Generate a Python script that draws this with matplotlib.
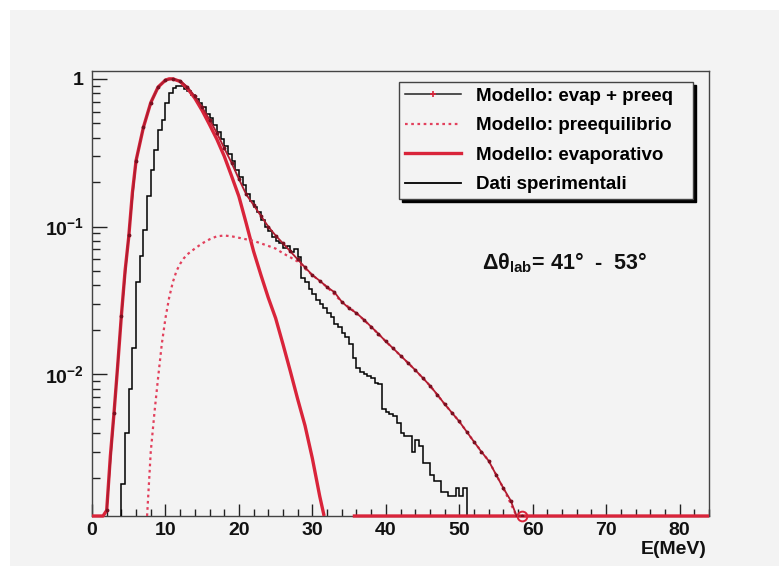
import numpy as np
import matplotlib
matplotlib.use("Agg")
import matplotlib.pyplot as plt
from matplotlib.lines import Line2D
from matplotlib.patches import Rectangle
from matplotlib.ticker import MultipleLocator, LogLocator, NullFormatter

plt.rcParams['font.family'] = ['Liberation Sans', 'DejaVu Sans']
plt.rcParams['font.weight'] = 'bold'
plt.rcParams['mathtext.fontset'] = 'custom'
plt.rcParams['mathtext.rm'] = 'Liberation Sans:bold'
plt.rcParams['mathtext.it'] = 'Liberation Sans:bold'
plt.rcParams['mathtext.bf'] = 'Liberation Sans:bold'
plt.rcParams['mathtext.default'] = 'rm'

# ---- axis range ----
E_MIN, E_MAX = 0.0, 84.0
Y_MIN, Y_MAX = 1.1e-3, 1.13

# ---- evaporative model (normalised to peak) ----
evap_E = [0, 1.5, 2.0, 2.5, 3.0, 3.5, 4.0, 4.5, 5.0, 5.5, 6.0, 7.0, 8.0, 9.0, 10.0,
          10.5, 11.0, 12.0, 13.0, 14.0, 15.0, 16.0, 17.0, 18.0, 19.0, 20.0, 21.0,
          22.0, 23.0, 24.0, 25.0, 26.0, 27.0, 28.0, 29.0, 30.0, 31.0, 31.6,
          33.0, 35.5, 84.0]
evap_val = [0, 0, 0.0012, 0.0028, 0.0055, 0.0115, 0.025, 0.05, 0.085, 0.17, 0.28,
            0.47, 0.69, 0.88, 0.98, 1.0, 1.0, 0.96, 0.86, 0.74, 0.61, 0.49, 0.39,
            0.30, 0.22, 0.16, 0.105, 0.068, 0.047, 0.033, 0.024, 0.016, 0.0105,
            0.0068, 0.0045, 0.0027, 0.0015, 0.00105, np.nan, 0, 0]

# ---- pre-equilibrium model ----
preeq_E = [7.5, 8.0, 8.5, 9.0, 9.5, 10.0, 10.5, 11.0, 11.5, 12.0, 12.5, 13.0, 14.0,
           15.0, 16.0, 17.0, 18.0, 19.0, 20.0, 21.0, 22.0, 23.0, 24.0, 25.0, 26.0,
           27.0, 28.0, 29.0, 30.0, 32.0, 34.0, 36.0, 38.0, 40.0, 42.0, 44.0, 46.0,
           48.0, 50.0, 52.0, 54.0, 56.0, 57.8]
preeq_val = [0.0011, 0.003, 0.0055, 0.0095, 0.016, 0.024, 0.033, 0.042, 0.05, 0.056,
             0.061, 0.065, 0.071, 0.077, 0.082, 0.086, 0.087, 0.086, 0.084, 0.082,
             0.08, 0.077, 0.074, 0.071, 0.066, 0.062, 0.058, 0.052, 0.047, 0.039,
             0.031, 0.026, 0.021, 0.0167, 0.0134, 0.0107, 0.0084, 0.0063, 0.0048,
             0.0035, 0.0026, 0.0017, 0.0011]

# ---- evaporative + pre-equilibrium model ----
sum_E = [2, 3, 4, 5, 6, 7, 8, 9, 10, 11, 12, 13, 14, 15, 16, 17, 18, 19, 20, 21, 22,
         23, 24, 25, 26, 27, 28, 29, 30, 31, 32, 33, 34, 35, 36, 37, 38, 39, 40, 41,
         42, 43, 44, 45, 46, 47, 48, 49, 50, 51, 52, 53, 54, 55, 56, 57, 57.8, 58.5]
sum_val = [0.0012, 0.0055, 0.025, 0.088, 0.28, 0.47, 0.69, 0.88, 0.98, 1.0, 0.97,
           0.88, 0.76, 0.64, 0.53, 0.43, 0.34, 0.27, 0.21, 0.165, 0.14, 0.118, 0.1,
           0.087, 0.077, 0.068, 0.06, 0.053, 0.047, 0.043, 0.039, 0.036, 0.031,
           0.028, 0.026, 0.0235, 0.021, 0.0188, 0.0167, 0.015, 0.0134, 0.012,
           0.0107, 0.0095, 0.0084, 0.0073, 0.0063, 0.0055, 0.0048, 0.0041, 0.0035,
           0.003, 0.0026, 0.0021, 0.0017, 0.0014, 0.0011, 0]

# ---- experimental spectrum (0.5 MeV bins starting at 4 MeV) ----
data_start, data_width = 4.0, 0.5
data_counts = [0.0018, 0.004, 0.008, 0.015, 0.042, 0.063, 0.095, 0.16, 0.24, 0.33,
               0.45, 0.53, 0.69, 0.80, 0.87, 0.90, 0.89, 0.86, 0.83, 0.78, 0.73,
               0.69, 0.64, 0.58, 0.54, 0.49, 0.44, 0.39, 0.35, 0.31, 0.28, 0.24,
               0.215, 0.19, 0.165, 0.15, 0.135, 0.125, 0.11, 0.1, 0.094, 0.085,
               0.08, 0.077, 0.072, 0.074, 0.067, 0.07, 0.062, 0.045, 0.042, 0.038,
               0.035, 0.032, 0.03, 0.028, 0.026, 0.0246, 0.022, 0.021, 0.019,
               0.018, 0.016, 0.013, 0.011, 0.0103, 0.01, 0.0098, 0.0094, 0.0088,
               0.0086, 0.0058, 0.0056, 0.0054, 0.0052, 0.0047, 0.004, 0.0038,
               0.0038, 0.003, 0.0036, 0.0033, 0.0025, 0.0025, 0.0021, 0.0019,
               0.0019, 0.0016, 0.0016, 0.0015, 0.0015, 0.0017, 0.0015, 0.0017]

legend_labels = ["Modello: evap + preeq", "Modello: preequilibrio",
                 "Modello: evaporativo", "Dati sperimentali"]
x_label = "E(MeV)"
annotation = r"$\Delta\theta_{lab}$= 41°  -  53°"

BG = '#f3f3f3'
RED = '#d9243a'
RED_DARK = '#b01c30'
RED_DOT = '#e2405c'

W, H = 779, 566
fig = plt.figure(figsize=(W / 100, H / 100), dpi=100, facecolor=BG)
# white margin strips along the top and left edges of the canvas
fig.patches.append(Rectangle((0, 1 - 10 / H), 1, 10 / H, transform=fig.transFigure,
                             facecolor='white', edgecolor='none', zorder=-5))
fig.patches.append(Rectangle((0, 0), 10 / W, 1, transform=fig.transFigure,
                             facecolor='white', edgecolor='none', zorder=-5))

ax = fig.add_axes([92 / W, 1 - 516 / H, (709 - 92) / W, (516 - 71) / H])
ax.set_facecolor(BG)
ax.set_yscale('log')
ax.set_xlim(E_MIN, E_MAX)
ax.set_ylim(Y_MIN, Y_MAX)


def floor(v):
    """Empty or sub-range bins are drawn on the lower frame, as in ROOT."""
    a = np.asarray(v, dtype=float)
    return np.where(np.isnan(a), np.nan, np.clip(a, Y_MIN, None))


# experimental histogram
edges = data_start + data_width * np.arange(len(data_counts) + 1)
ax.stairs(data_counts, edges, baseline=Y_MIN, color='black', lw=1.1, zorder=3)

# models
ax.plot(evap_E, floor(evap_val), color=RED, lw=2.4, zorder=4, clip_on=False,
        solid_capstyle='butt')
ax.plot(preeq_E, floor(preeq_val), color=RED_DOT, lw=1.6, ls=(0, (1.2, 1.6)), zorder=4)
ax.plot(sum_E, floor(sum_val), color=RED_DARK, lw=1.3, marker='.', ms=3.5,
        mfc='#7a1020', mec='#7a1020', zorder=5)
zero_idx = [i for i, v in enumerate(sum_val) if v == 0]
ax.plot([sum_E[i] for i in zero_idx], floor([sum_val[i] for i in zero_idx]),
        ls='none', marker='o', ms=7, mfc='none', mec=RED, mew=1.4, zorder=6,
        clip_on=False)

# axes styling
for s in ax.spines.values():
    s.set_color('#444444')
    s.set_linewidth(1.0)
ax.xaxis.set_major_locator(MultipleLocator(10))
ax.xaxis.set_minor_locator(MultipleLocator(2))
ax.set_yticks([1e-2, 1e-1, 1], labels=[r'$10^{-2}$', r'$10^{-1}$', '1'])
ax.yaxis.set_minor_locator(LogLocator(base=10, subs=np.arange(2, 10)))
ax.yaxis.set_minor_formatter(NullFormatter())
ax.tick_params(axis='both', which='both', direction='in', top=False, right=False,
               colors='#222222', labelcolor='#111111')
ax.tick_params(axis='x', which='major', length=9, width=1.0, labelsize=14, pad=4)
ax.tick_params(axis='x', which='minor', length=5, width=1.0)
ax.tick_params(axis='y', which='major', length=11, width=1.0, labelsize=14, pad=6)
ax.tick_params(axis='y', which='minor', length=5.5, width=1.0)
for lab in ax.get_xticklabels() + ax.get_yticklabels():
    lab.set_fontweight('bold')

fig.text(707 / W, 1 - 549 / H, x_label, ha='right', va='center', fontsize=14,
         fontweight='bold', color='#111111')

ax.text(482 / W, 1 - 263 / H, annotation, transform=fig.transFigure, ha='left',
        va='center', fontsize=15.5, fontweight='bold', color='#111111')

handles = [
    Line2D([], [], color='#222222', lw=1.1, marker='+', ms=4, mec=RED, mew=1.2),
    Line2D([], [], color=RED_DOT, lw=1.6, ls=(0, (1.2, 1.6))),
    Line2D([], [], color=RED, lw=2.4),
    Line2D([], [], color='black', lw=1.3),
]
leg = ax.legend(handles, legend_labels, loc='upper left', mode='expand',
                bbox_to_anchor=(399 / W, 1 - 197 / H, 294 / W, 115 / H),
                bbox_transform=fig.transFigure,
                borderaxespad=0, prop={'weight': 'bold', 'size': 13.5},
                frameon=True, fancybox=False, edgecolor='#444444', facecolor=BG,
                framealpha=1, handlelength=3.0, handletextpad=0.8, labelspacing=0.66,
                borderpad=0.3, shadow={'color': 'black', 'alpha': 1, 'shade': 0})
leg.get_frame().set_linewidth(1.0)

fig.savefig('out.png', dpi=100, facecolor=BG)
